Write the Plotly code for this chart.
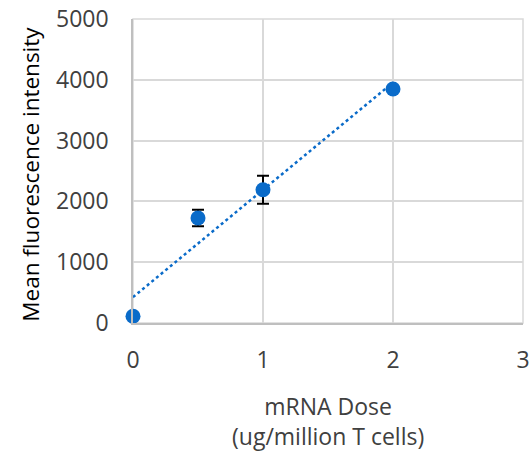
import numpy as np
import plotly.graph_objects as go

dose = [0, 0.5, 1, 2]
mfi = [110, 1727, 2192, 3849]
err = [0, 135, 230, 0]
x_ticks = [0, 1, 2, 3]
y_ticks = [0, 1000, 2000, 3000, 4000, 5000]
x_title = "mRNA Dose<br>(ug/million T cells)"
y_title = "Mean fluorescence intensity"

slope, intercept = np.polyfit(dose, mfi, 1)
fit_x = [0, 2]
fit_y = [intercept + slope * x for x in fit_x]

blue = "#0A6BC9"
font = "Open Sans"
fs = 23

fig = go.Figure()
fig.add_trace(go.Scatter(x=fit_x, y=fit_y, mode="lines",
                         line=dict(color=blue, width=2.5, dash="dot"),
                         hoverinfo="skip", showlegend=False))
fig.add_trace(go.Scatter(x=dose, y=mfi, mode="markers",
                         marker=dict(color=blue, size=15),
                         error_y=dict(type="data", array=err, visible=True,
                                      color="black", thickness=2, width=6),
                         cliponaxis=False, showlegend=False))

fig.update_layout(
    width=530, height=452,
    margin=dict(l=133, r=7, t=19, b=129),
    plot_bgcolor="white", paper_bgcolor="white",
    font=dict(family=font, size=fs, color="#404040"),
    xaxis=dict(range=[0, 3], tickvals=x_ticks, showgrid=True, automargin=False,
               gridcolor="#d9d9d9", gridwidth=1.5, zeroline=False,
               showline=True, linecolor="#bfbfbf", linewidth=1.5,
               ticks="", ticklabelstandoff=16, ticklabeloverflow="allow",
               tickfont=dict(size=fs, color="#404040")),
    yaxis=dict(range=[0, 5000], tickvals=y_ticks, automargin=False,
               showgrid=True, gridcolor="#d9d9d9", gridwidth=1.5, zeroline=False,
               showline=True, linecolor="#bfbfbf", linewidth=1.5,
               ticks="", ticklabelstandoff=18, ticklabeloverflow="allow",
               tickfont=dict(size=fs, color="#404040")),
    annotations=[
        dict(text=x_title, xref="paper", yref="paper", x=0.5, y=-0.215,
             xanchor="center", yanchor="top", showarrow=False,
             font=dict(size=fs, color="#404040", family=font)),
        dict(text=y_title, xref="paper", yref="paper", x=-0.2615, y=0.488,
             xanchor="center", yanchor="middle", showarrow=False, textangle=-90,
             font=dict(size=22.5, color="#000000", family=font)),
    ],
)
fig.add_shape(type="rect", xref="paper", yref="paper", x0=0, y0=0, x1=1, y1=1,
              line=dict(color="#d9d9d9", width=1.5), layer="below")

fig.write_html("out.html", config={"displayModeBar": False},
               post_script="document.body.style.margin='0';document.body.style.overflow='hidden';")
